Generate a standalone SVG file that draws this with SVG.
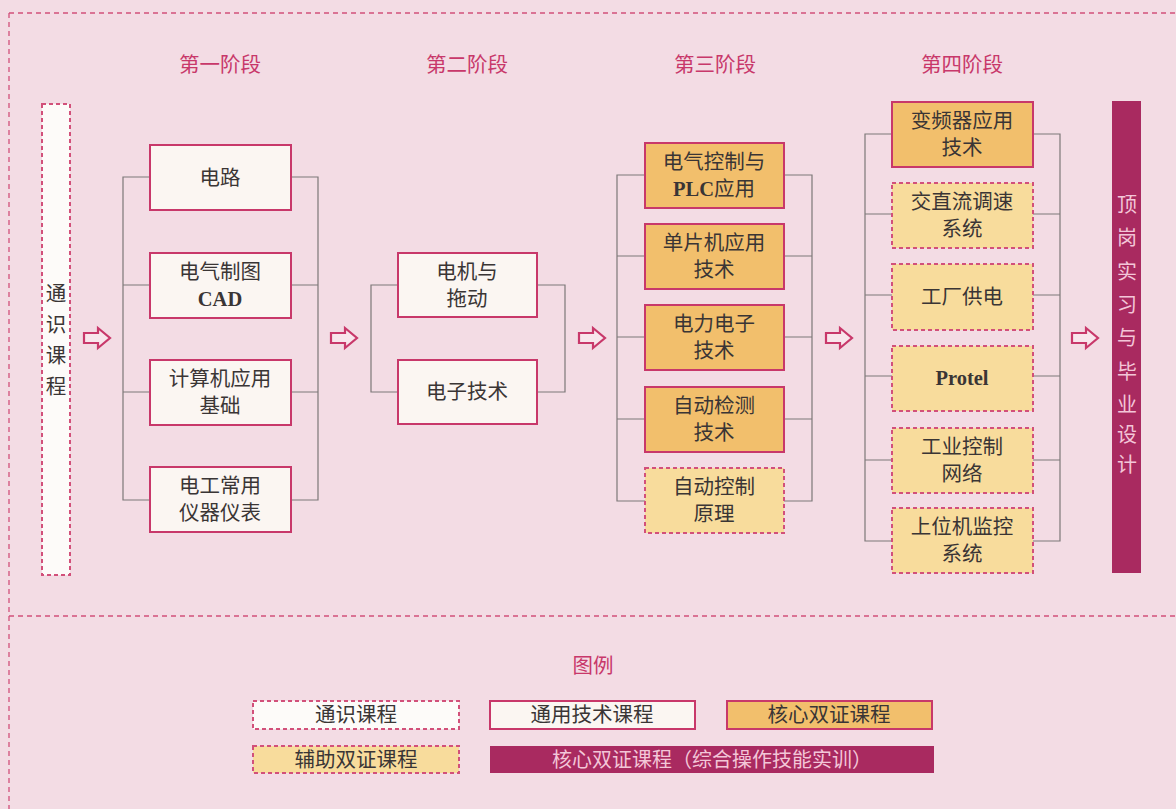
<svg xmlns="http://www.w3.org/2000/svg" width="1176" height="809" viewBox="0 0 1176 809">
<defs>
<style>
.bg{fill:#f3dce4}
.frame{stroke:#d2507a;stroke-width:1.3;stroke-dasharray:5,4;fill:none}
.hdr{font-family:"Liberation Serif","Noto Sans CJK SC",serif;font-size:20.5px;fill:#c8386a;text-anchor:middle}
.t{font-family:"Liberation Serif","Noto Sans CJK SC",serif;font-size:20.5px;fill:#3a3535;text-anchor:middle}
.tb{font-family:"Liberation Serif","Noto Sans CJK SC",serif;font-size:20.5px;fill:#3a3535;text-anchor:middle;font-weight:bold}
.b{font-weight:bold}
.vt{font-family:"Noto Sans CJK SC",sans-serif;font-size:20px;fill:#f3c6d8;text-anchor:middle}
.gen{fill:#fbf6f2;stroke:#c8386a;stroke-width:2}
.core{fill:#f2bf6c;stroke:#c8386a;stroke-width:2}
.aux{fill:#f8dc9c;stroke:#d2507a;stroke-width:2;stroke-dasharray:4,3}
.gnl{fill:#fdfbf9;stroke:#d2507a;stroke-width:2;stroke-dasharray:4,3}
.bar{fill:#a92a60}
.con{stroke:#7d7878;stroke-width:1.2;fill:none}
.arr{fill:#f8e6ec;stroke:#c8386a;stroke-width:2.2;stroke-linejoin:miter}
</style>
</defs>
<rect class="bg" x="0" y="0" width="1176" height="809"/>
<g id="frame">
<line class="frame" x1="9" y1="13" x2="1176" y2="13"/>
<line class="frame" x1="9" y1="13" x2="9" y2="809"/>
<line class="frame" x1="9" y1="616" x2="1176" y2="616"/>
</g>
<g id="headers">
<text class="hdr" x="220" y="72">第一阶段</text>
<text class="hdr" x="467" y="72">第二阶段</text>
<text class="hdr" x="715" y="72">第三阶段</text>
<text class="hdr" x="962" y="72">第四阶段</text>
</g>
<g id="connectors">
<path class="con" d="M150,177 H123 V500 H150 M123,285 H150 M123,392 H150"/>
<path class="con" d="M291,177 H318 V500 H291 M318,285 H291 M318,392 H291"/>
<path class="con" d="M398,285 H371 V392 H398"/>
<path class="con" d="M537,285 H565 V392 H537"/>
<path class="con" d="M645,175 H617 V501 H645 M617,256 H645 M617,337 H645 M617,419 H645"/>
<path class="con" d="M784,175 H812 V501 H784 M812,256 H784 M812,337 H784 M812,419 H784"/>
<path class="con" d="M892,134 H865 V541 H892 M865,214 H892 M865,295 H892 M865,376 H892 M865,460 H892"/>
<path class="con" d="M1033,134 H1060 V541 H1033 M1060,214 H1033 M1060,295 H1033 M1060,376 H1033 M1060,460 H1033"/>
<g id="arrows">
<path class="arr" d="M84,333 H98 V328 L110,338 L98,348 V343 H84 Z"/>
<path class="arr" d="M331,333 H345 V328 L357,338 L345,348 V343 H331 Z"/>
<path class="arr" d="M579,333 H593 V328 L605,338 L593,348 V343 H579 Z"/>
<path class="arr" d="M826,333 H840 V328 L852,338 L840,348 V343 H826 Z"/>
<path class="arr" d="M1072,333 H1086 V328 L1098,338 L1086,348 V343 H1072 Z"/>
</g>
</g>
<g id="n-tongshi">
<rect class="gnl" x="42" y="104" width="28" height="471"/>
<text class="t" x="56" y="301">通</text>
<text class="t" x="56" y="332">识</text>
<text class="t" x="56" y="363">课</text>
<text class="t" x="56" y="394">程</text>
</g>
<g id="n-dianlu">
<rect class="gen" x="150" y="145" width="141" height="65"/>
<text class="t" x="220" y="185">电路</text>
</g>
<g id="n-cad">
<rect class="gen" x="150" y="253" width="141" height="65"/>
<text class="t" x="220" y="279">电气制图</text>
<text class="tb" x="220" y="306">CAD</text>
</g>
<g id="n-jisuanji">
<rect class="gen" x="150" y="360" width="141" height="65"/>
<text class="t" x="220" y="386">计算机应用</text>
<text class="t" x="220" y="413">基础</text>
</g>
<g id="n-diangong">
<rect class="gen" x="150" y="467" width="141" height="65"/>
<text class="t" x="220" y="493">电工常用</text>
<text class="t" x="220" y="520">仪器仪表</text>
</g>
<g id="n-dianji">
<rect class="gen" x="398" y="253" width="139" height="64"/>
<text class="t" x="467" y="279">电机与</text>
<text class="t" x="467" y="306">拖动</text>
</g>
<g id="n-dianzi">
<rect class="gen" x="398" y="360" width="139" height="64"/>
<text class="t" x="467" y="399">电子技术</text>
</g>
<g id="n-plc">
<rect class="core" x="645" y="143" width="139" height="65"/>
<text class="t" x="714" y="169">电气控制与</text>
<text class="t" x="714" y="196"><tspan class="b">PLC</tspan>应用</text>
</g>
<g id="n-danpianji">
<rect class="core" x="645" y="224" width="139" height="65"/>
<text class="t" x="714" y="250">单片机应用</text>
<text class="t" x="714" y="277">技术</text>
</g>
<g id="n-dianli">
<rect class="core" x="645" y="305" width="139" height="65"/>
<text class="t" x="714" y="331">电力电子</text>
<text class="t" x="714" y="358">技术</text>
</g>
<g id="n-jiance">
<rect class="core" x="645" y="387" width="139" height="65"/>
<text class="t" x="714" y="413">自动检测</text>
<text class="t" x="714" y="440">技术</text>
</g>
<g id="n-zidong">
<rect class="aux" x="645" y="468" width="139" height="65"/>
<text class="t" x="714" y="494">自动控制</text>
<text class="t" x="714" y="521">原理</text>
</g>
<g id="n-bianpin">
<rect class="core" x="892" y="102" width="141" height="65"/>
<text class="t" x="962" y="128">变频器应用</text>
<text class="t" x="962" y="155">技术</text>
</g>
<g id="n-jiaozhi">
<rect class="aux" x="892" y="183" width="141" height="65"/>
<text class="t" x="962" y="209">交直流调速</text>
<text class="t" x="962" y="236">系统</text>
</g>
<g id="n-gongchang">
<rect class="aux" x="892" y="264" width="141" height="66"/>
<text class="t" x="962" y="304">工厂供电</text>
</g>
<g id="n-protel">
<rect class="aux" x="892" y="346" width="141" height="65"/>
<text class="tb" x="962" y="385">Protel</text>
</g>
<g id="n-wangluo">
<rect class="aux" x="892" y="428" width="141" height="65"/>
<text class="t" x="962" y="454">工业控制</text>
<text class="t" x="962" y="481">网络</text>
</g>
<g id="n-shangwei">
<rect class="aux" x="892" y="508" width="141" height="65"/>
<text class="t" x="962" y="534">上位机监控</text>
<text class="t" x="962" y="561">系统</text>
</g>
<g id="n-dinggang">
<rect class="bar" x="1112" y="101" width="29" height="472"/>
<text class="vt" x="1127" y="212">顶</text>
<text class="vt" x="1127" y="245">岗</text>
<text class="vt" x="1127" y="279">实</text>
<text class="vt" x="1127" y="312">习</text>
<text class="vt" x="1127" y="345">与</text>
<text class="vt" x="1127" y="379">毕</text>
<text class="vt" x="1127" y="412">业</text>
<text class="vt" x="1127" y="442">设</text>
<text class="vt" x="1127" y="472">计</text>
</g>
<g id="legend">
<text class="hdr" x="593" y="673">图例</text>
<rect class="gnl" x="253" y="701" width="206" height="28"/>
<text class="t" x="356" y="722">通识课程</text>
<rect class="gen" x="490" y="701" width="205" height="28"/>
<text class="t" x="592" y="722">通用技术课程</text>
<rect class="core" x="727" y="701" width="205" height="28"/>
<text class="t" x="829" y="722">核心双证课程</text>
<rect class="aux" x="253" y="746" width="206" height="27"/>
<text class="t" x="356" y="767">辅助双证课程</text>
<rect class="bar" x="490" y="746" width="444" height="27"/>
<text class="vt" x="712" y="767">核心双证课程（综合操作技能实训）</text>
</g>
</svg>
